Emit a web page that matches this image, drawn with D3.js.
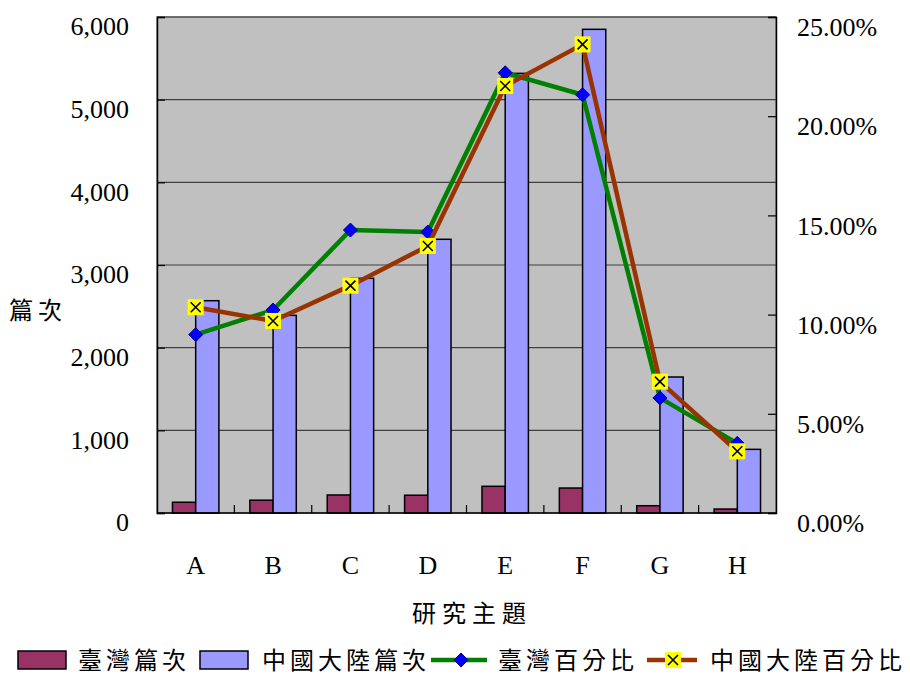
<!DOCTYPE html>
<html>
<head>
<meta charset="utf-8">
<script src="https://cdn.jsdelivr.net/npm/d3@7"></script>
<style>
body{margin:0;background:#fff;}
</style>
</head>
<body>
<script>
// 数据
let categories=["A","B","C","D","E","F","G","H"];
let twCount=[130,155,218,215,323,302,88,48];
let cnCount=[2568,2391,2839,3311,5318,5851,1645,770];
let twPct=[0.0899,0.1023,0.1426,0.1416,0.2219,0.2108,0.0580,0.0351];
let cnPct=[0.1037,0.0968,0.1146,0.1346,0.2152,0.2362,0.0662,0.0311];
let leftTicks=[0,1000,2000,3000,4000,5000,6000];
let rightTicks=[0,0.05,0.10,0.15,0.20,0.25];
let legendNames=["臺灣篇次","中國大陸篇次","臺灣百分比","中國大陸百分比"];

let width=910,height=676;
let pLeft=157,pRight=776,pTop=17,pBottom=513;
let serif="'Liberation Serif','DejaVu Serif',serif";
let cjk="'Noto Sans CJK TC','Noto Sans CJK SC',sans-serif";

let svg=d3.select("body").append("svg")
    .attr("width",width).attr("height",height)
    .style("background","#fff");

let x=d3.scaleBand().domain(categories).range([pLeft,pRight]);
let xs=d3.scaleBand().domain(["tw","cn"]).range([x.bandwidth()*0.2,x.bandwidth()*0.8]);
let yL=d3.scaleLinear().domain([0,6000]).range([pBottom,pTop]);
let yR=d3.scaleLinear().domain([0,0.25]).range([pBottom,pTop]);

//绘图区背景
svg.append("rect").attr("x",pLeft).attr("y",pTop)
    .attr("width",pRight-pLeft).attr("height",pBottom-pTop)
    .attr("fill","#c0c0c0").attr("stroke","#808080").attr("stroke-width",1.5);

//网格线
svg.append("g").selectAll("line").data(leftTicks.slice(1)).enter().append("line")
    .attr("x1",pLeft).attr("x2",pRight)
    .attr("y1",d=>yL(d)).attr("y2",d=>yL(d))
    .attr("stroke","#404040").attr("stroke-width",1.2);

//柱子
let rows=categories.map((c,i)=>({c:c,tw:twCount[i],cn:cnCount[i]}));
let colors={tw:"#993366",cn:"#9999ff"};
["tw","cn"].forEach(function(k){
    svg.append("g").selectAll("rect").data(rows).enter().append("rect")
        .attr("x",d=>x(d.c)+xs(k))
        .attr("y",d=>yL(d[k]))
        .attr("width",xs.bandwidth())
        .attr("height",d=>pBottom-yL(d[k]))
        .attr("fill",colors[k]).attr("stroke","#000").attr("stroke-width",1.5);
});

//左轴
let gl=svg.append("g").attr("transform",`translate(${pLeft},0)`)
    .call(d3.axisLeft(yL).tickValues(leftTicks).tickFormat(d3.format(",")).tickSize(-8).tickPadding(28));
gl.select(".domain").attr("stroke","#000").attr("stroke-width",1.5);
gl.selectAll(".tick line").attr("stroke","#000").attr("stroke-width",1.2);
gl.selectAll("text").attr("font-family",serif).attr("font-size",26).attr("fill","#000").attr("dy","0.68em");

//右轴
let gr=svg.append("g").attr("transform",`translate(${pRight},0)`)
    .call(d3.axisRight(yR).tickValues(rightTicks).tickFormat(d3.format(".2%")).tickSize(-8).tickPadding(21));
gr.select(".domain").attr("stroke","#000").attr("stroke-width",1.5);
gr.selectAll(".tick line").attr("stroke","#000").attr("stroke-width",1.2);
gr.selectAll("text").attr("font-family",serif).attr("font-size",26).attr("fill","#000").attr("dy","0.72em");

//底轴
svg.append("line").attr("x1",pLeft).attr("x2",pRight).attr("y1",pBottom).attr("y2",pBottom)
    .attr("stroke","#000").attr("stroke-width",1.5);
svg.append("g").selectAll("line").data(categories.slice(1)).enter().append("line")
    .attr("x1",d=>x(d)).attr("x2",d=>x(d))
    .attr("y1",pBottom).attr("y2",pBottom-8)
    .attr("stroke","#000").attr("stroke-width",1.2);
svg.append("g").selectAll("text").data(categories).enter().append("text")
    .attr("x",d=>x(d)+x.bandwidth()/2).attr("y",574)
    .attr("text-anchor","middle")
    .attr("font-family",serif).attr("font-size",26)
    .text(d=>d);

//轴标题
svg.append("text").attr("x",412).attr("y",622)
    .attr("font-family",cjk).attr("font-size",24).attr("letter-spacing",6)
    .text("研究主題");
svg.append("text").attr("x",9).attr("y",319)
    .attr("font-family",cjk).attr("font-size",24).attr("letter-spacing",5)
    .text("篇次");

//折线
let xc=d=>x(d)+x.bandwidth()/2;
function diamond(g,cx,cy){
    g.append("path").attr("d",`M${cx},${cy-7}L${cx+7},${cy}L${cx},${cy+7}L${cx-7},${cy}Z`)
        .attr("fill","#0000ff").attr("stroke","#000080").attr("stroke-width",1);
}
function xmark(g,cx,cy){
    g.append("rect").attr("x",cx-8).attr("y",cy-8).attr("width",16).attr("height",16).attr("fill","#ffff00");
    g.append("path").attr("d",`M${cx-5},${cy-5}L${cx+5},${cy+5}M${cx+5},${cy-5}L${cx-5},${cy+5}`)
        .attr("stroke","#000").attr("stroke-width",1.6);
}
let line=d3.line().x(d=>xc(d.c)).y(d=>yR(d.v));
let twData=categories.map((c,i)=>({c:c,v:twPct[i]}));
let cnData=categories.map((c,i)=>({c:c,v:cnPct[i]}));
let gTw=svg.append("g");
gTw.append("path").datum(twData).attr("d",line).attr("fill","none")
    .attr("stroke","#008000").attr("stroke-width",4.5).attr("stroke-linejoin","round");
twData.forEach(d=>diamond(gTw,xc(d.c),yR(d.v)));
let gCn=svg.append("g");
gCn.append("path").datum(cnData).attr("d",line).attr("fill","none")
    .attr("stroke","#993300").attr("stroke-width",4.5).attr("stroke-linejoin","round");
cnData.forEach(d=>xmark(gCn,xc(d.c),yR(d.v)));

//图例
let lg=svg.append("g");
let ly=660;
lg.append("rect").attr("x",18).attr("y",ly-9).attr("width",48).attr("height",18)
    .attr("fill","#993366").attr("stroke","#000").attr("stroke-width",1.5);
lg.append("text").attr("x",78).attr("y",ly+9).text(legendNames[0]);
lg.append("rect").attr("x",200).attr("y",ly-9).attr("width",48).attr("height",18)
    .attr("fill","#9999ff").attr("stroke","#000").attr("stroke-width",1.5);
lg.append("text").attr("x",262).attr("y",ly+9).text(legendNames[1]);
lg.append("line").attr("x1",431).attr("x2",487).attr("y1",ly).attr("y2",ly)
    .attr("stroke","#008000").attr("stroke-width",4.5);
diamond(lg,461,ly);
lg.append("text").attr("x",498).attr("y",ly+9).text(legendNames[2]);
lg.append("line").attr("x1",647).attr("x2",697).attr("y1",ly).attr("y2",ly)
    .attr("stroke","#993300").attr("stroke-width",4.5);
xmark(lg,673,ly);
lg.append("text").attr("x",710).attr("y",ly+9).text(legendNames[3]);
lg.selectAll("text").attr("font-family",cjk).attr("font-size",24).attr("letter-spacing",4);
</script>
</body>
</html>
